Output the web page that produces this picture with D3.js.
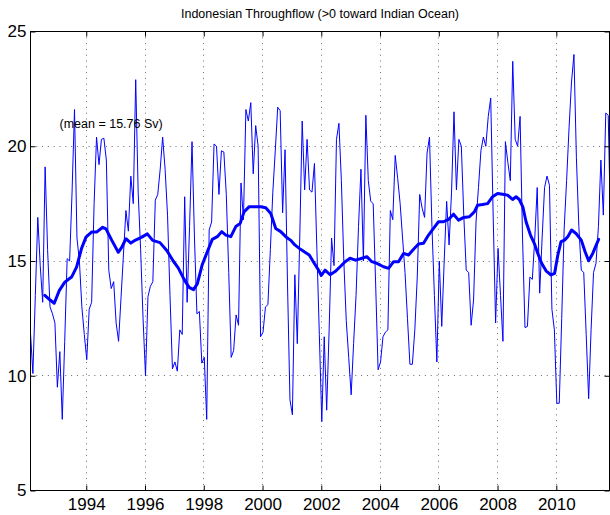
<!DOCTYPE html>
<html><head><meta charset="utf-8">
<script src="https://cdn.jsdelivr.net/npm/d3@7"></script>
<style>
body{margin:0;background:#fff;}
svg{display:block;}
text{font-family:"Liberation Sans",Arial,Helvetica,sans-serif;fill:#000;}
</style></head><body>
<svg id="chart" width="610" height="515"></svg>
<script>
// ---- data ----
const startYear = 1992.1;          // first monthly sample
const monthStep = 1 / 12;
const itf = [
  11.9, 10.1, 13.5, 16.9, 14.8, 13.2, 19.1, 15.5, 13.0, 12.7, 12.3, 9.5,
  11.05, 8.1, 11.5, 15.1, 15.0, 18.0, 21.6, 16.0, 15.0, 13.0, 11.8, 10.7,
  12.9, 13.2, 17.5, 20.4, 19.2, 20.3, 20.35, 19.4, 14.6, 13.8, 14.1, 12.3,
  11.5, 13.4, 15.3, 17.2, 16.3, 18.7, 17.5, 22.9, 18.0, 15.5, 12.5, 10.0,
  13.45, 13.9, 14.1, 17.65, 17.9, 19.0, 20.4, 19.0, 17.0, 13.5, 10.3, 10.6,
  10.2, 12.0, 11.8, 17.8, 13.2, 16.5, 20.2, 16.0, 12.7, 12.8, 10.55, 10.8,
  8.1, 16.35, 16.7, 20.1, 20.0, 17.9, 19.8, 19.75, 17.9, 14.5, 10.8, 11.1,
  12.65, 12.2, 18.4, 16.8, 21.6, 21.1, 21.9, 18.8, 20.9, 20.0, 11.7, 11.9,
  13.0, 13.1, 15.5, 18.0, 19.8, 21.7, 21.55, 17.1, 19.85, 14.0, 8.95, 8.3,
  14.4, 11.4, 16.0, 21.1, 18.1, 20.3, 18.1, 18.0, 19.25, 15.5, 11.8, 8.0,
  11.7, 8.5, 12.0, 16.0, 14.8, 20.3, 21.0, 18.5, 15.0, 12.4, 10.8, 9.17,
  11.4, 13.5, 16.5, 19.0, 15.0, 21.35, 18.5, 17.6, 17.5, 14.0, 10.26, 10.6,
  11.7, 11.9, 12.0, 17.2, 16.8, 19.6, 18.6, 17.5, 16.0, 14.5, 12.5, 10.5,
  10.5, 12.0, 14.3, 17.9, 17.3, 16.9, 19.7, 20.4, 16.5, 13.5, 10.6, 15.0,
  12.15, 15.0, 17.6, 15.7, 18.0, 21.5, 18.1, 20.3, 20.0, 17.0, 14.6, 14.5,
  12.2, 13.3, 16.7, 18.2, 19.8, 20.4, 20.0, 21.3, 22.1, 17.0, 12.3, 15.55,
  13.5, 11.5, 20.2, 19.3, 18.5, 23.7, 20.3, 20.0, 21.3, 16.0, 12.1, 12.15,
  14.3, 14.2, 16.0, 18.2, 13.6, 16.0, 18.2, 18.7, 18.3, 12.9, 12.0, 8.8,
  8.8, 12.5, 16.4, 18.5, 20.8, 22.8, 24.0, 19.5, 16.5, 14.6, 14.5, 11.8,
  9.0, 12.0, 14.5, 14.9, 16.5, 19.4, 17.0, 21.45, 21.35, 16.2
];
const smoothYears = [
  1992.59, 1992.76, 1992.91, 1993.08, 1993.27, 1993.50, 1993.67, 1993.84, 1993.99, 1994.18,
  1994.35, 1994.56, 1994.67, 1994.87, 1995.09, 1995.21, 1995.35, 1995.52, 1995.66, 1995.89,
  1996.08, 1996.26, 1996.51, 1996.74, 1996.96, 1997.13, 1997.33, 1997.50, 1997.65, 1997.78,
  1997.95, 1998.12, 1998.29, 1998.46, 1998.61, 1998.75, 1998.92, 1999.09, 1999.24, 1999.37,
  1999.54, 1999.71, 1999.94, 2000.11, 2000.28, 2000.45, 2000.62, 2000.79, 2000.96, 2001.10,
  2001.25, 2001.42, 2001.59, 2001.76, 2001.93, 2002.00, 2002.13, 2002.30, 2002.47, 2002.64,
  2002.81, 2002.98, 2003.16, 2003.33, 2003.55, 2003.72, 2003.89, 2004.12, 2004.29, 2004.46,
  2004.63, 2004.80, 2004.97, 2005.14, 2005.31, 2005.48, 2005.65, 2005.82, 2005.99, 2006.16,
  2006.33, 2006.50, 2006.67, 2006.85, 2007.04, 2007.21, 2007.32, 2007.49, 2007.66, 2007.83,
  2008.00, 2008.17, 2008.34, 2008.51, 2008.63, 2008.74, 2008.86, 2008.97, 2009.12, 2009.25,
  2009.37, 2009.50, 2009.65, 2009.82, 2009.94, 2010.05, 2010.16, 2010.28, 2010.39, 2010.52,
  2010.67, 2010.85, 2010.98, 2011.10, 2011.24, 2011.36, 2011.44
];
const smoothValues = [
  13.5, 13.31, 13.16, 13.71, 14.08, 14.3, 14.73, 15.55, 16.04, 16.26,
  16.26, 16.47, 16.4, 15.9, 15.38, 15.6, 15.97, 15.78, 15.9, 16.04,
  16.18, 15.9, 15.8, 15.46, 15.0, 14.7, 14.2, 13.85, 13.75, 14.0,
  14.85, 15.4, 15.94, 16.06, 16.28, 16.13, 16.06, 16.5, 16.64, 17.14,
  17.36, 17.36, 17.36, 17.32, 17.07, 16.42, 16.28, 16.06, 15.9, 15.7,
  15.55, 15.4, 15.26, 14.9, 14.55, 14.37, 14.6, 14.4, 14.54, 14.75,
  14.97, 15.12, 15.04, 15.1, 15.19, 14.97, 14.9, 14.75, 14.68, 14.97,
  14.97, 15.33, 15.26, 15.51, 15.74, 15.77, 16.13, 16.42, 16.71, 16.71,
  16.81, 17.04, 16.78, 16.9, 16.93, 17.14, 17.43, 17.46, 17.5, 17.8,
  17.94, 17.91, 17.87, 17.68, 17.8, 17.68, 17.36, 16.71, 16.13, 15.77,
  15.33, 14.9, 14.57, 14.39, 14.46, 15.25, 15.84, 15.91, 16.06, 16.35,
  16.2, 15.91, 15.4, 15.01, 15.33, 15.7, 15.94
];
const xTicks = [1994, 1996, 1998, 2000, 2002, 2004, 2006, 2008, 2010];
const yTicks = [5, 10, 15, 20, 25];
const xDomain = [1992.102, 2011.81];
const yDomain = [5, 25];
const titleText = "Indonesian Throughflow (>0 toward Indian Ocean)";
const meanText = "(mean = 15.76 Sv)";

// ---- layout ----
const L = 30.5, R = 609.5, T = 31.5, B = 490.5;
const svg = d3.select("#chart");
const x = d3.scaleLinear().domain(xDomain).range([L, R]);
const y = d3.scaleLinear().domain(yDomain).range([B, T]);

svg.append("defs").append("clipPath").attr("id", "clip")
  .append("rect").attr("x", L).attr("y", T).attr("width", R - L).attr("height", B - T);

// grid
const grid = svg.append("g").attr("stroke", "#6a6a6a").attr("stroke-width", 1)
  .attr("stroke-dasharray", "1,4.8").attr("fill", "none");
xTicks.forEach(t => {
  const px = Math.floor(x(t)) + 0.5;
  grid.append("line").attr("x1", px).attr("x2", px).attr("y1", T).attr("y2", B);
});
yTicks.filter(v => v > yDomain[0] && v < yDomain[1]).forEach(v => {
  const py = Math.floor(y(v)) + 0.5;
  grid.append("line").attr("x1", L).attr("x2", R).attr("y1", py).attr("y2", py);
});

// data lines
const monthly = itf.map((v, i) => ({t: startYear + i * monthStep, v}));
const smooth = smoothYears.map((t, i) => ({t, v: smoothValues[i]}));
const line = d3.line().x(d => x(d.t)).y(d => y(d.v));
const plot = svg.append("g").attr("clip-path", "url(#clip)");
plot.append("path").datum(monthly).attr("d", line)
  .attr("fill", "none").attr("stroke", "#0000ff").attr("stroke-width", 1)
  .attr("stroke-linejoin", "miter");
plot.append("path").datum(smooth).attr("d", line)
  .attr("fill", "none").attr("stroke", "#0000ff").attr("stroke-width", 3)
  .attr("stroke-linejoin", "round").attr("stroke-linecap", "round");

// axes (ticks inward)
const fmt = d3.format("d");
const ax = svg.append("g").attr("transform", `translate(0,${B})`)
  .call(d3.axisBottom(x).tickValues(xTicks).tickFormat(fmt).tickSize(-5).tickPadding(7));
const axT = svg.append("g").attr("transform", `translate(0,${T})`)
  .call(d3.axisTop(x).tickValues(xTicks).tickFormat("").tickSize(-5));
const ay = svg.append("g").attr("transform", `translate(${L},0)`)
  .call(d3.axisLeft(y).tickValues(yTicks).tickFormat(fmt).tickSize(-5).tickPadding(4));
const ayR = svg.append("g").attr("transform", `translate(${R},0)`)
  .call(d3.axisRight(y).tickValues(yTicks).tickFormat("").tickSize(-5));
[ax, axT, ay, ayR].forEach(g => {
  g.select(".domain").remove();
  g.selectAll(".tick line").attr("stroke", "#000");
  g.selectAll("text").attr("font-size", 17).attr("font-family", '"Liberation Sans",Arial,Helvetica,sans-serif').attr("fill", "#000");
});

// frame
svg.append("rect").attr("x", L).attr("y", T).attr("width", R - L).attr("height", B - T)
  .attr("fill", "none").attr("stroke", "#000").attr("stroke-width", 1);

// texts
svg.append("text").attr("x", (L + R) / 2).attr("y", 18).attr("text-anchor", "middle")
  .attr("font-size", 12.5).text(titleText);
svg.append("text").attr("x", 59.5).attr("y", 128).attr("text-anchor", "start")
  .attr("font-size", 12.5).text(meanText);
</script>
</body></html>
